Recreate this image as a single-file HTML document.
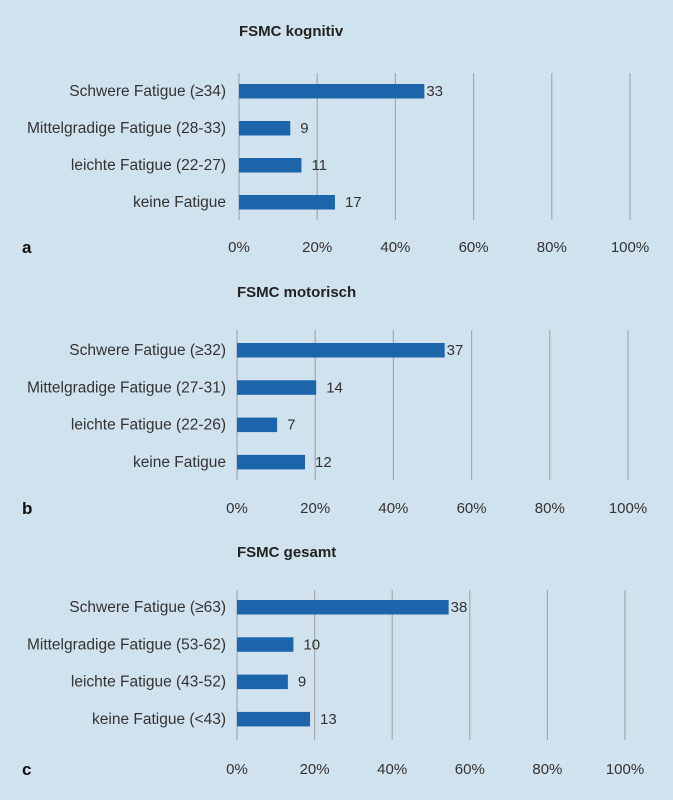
<!DOCTYPE html>
<html><head><meta charset="utf-8"><style>
body{margin:0;background:#d0e2ee;}
svg{display:block;font-family:"Liberation Sans",sans-serif;}
</style></head><body>
<svg id="chart" width="673" height="800"></svg>
<script>
const titles=["FSMC kognitiv","FSMC motorisch","FSMC gesamt"];
const panelLetters=["a","b","c"];
const catsA=["Schwere Fatigue (≥34)","Mittelgradige Fatigue (28-33)","leichte Fatigue (22-27)","keine Fatigue"];
const catsB=["Schwere Fatigue (≥32)","Mittelgradige Fatigue (27-31)","leichte Fatigue (22-26)","keine Fatigue"];
const catsC=["Schwere Fatigue (≥63)","Mittelgradige Fatigue (53-62)","leichte Fatigue (43-52)","keine Fatigue (<43)"];
const valsA=[33,9,11,17];
const valsB=[37,14,7,12];
const valsC=[38,10,9,13];
const ticks=[0,20,40,60,80,100];
const NS="http://www.w3.org/2000/svg";
const svg=document.getElementById("chart");
function mk(t,a,txt){const e=document.createElementNS(NS,t);for(const k in a)e.setAttribute(k,a[k]);if(txt!=null)e.textContent=txt;svg.appendChild(e);return e;}
const panels=[
 {cats:catsA,vals:valsA,x0:239,x1:630,title:31,gTop:73,gBot:220,row0:91,step:37,tickY:247},
 {cats:catsB,vals:valsB,x0:237,x1:628,title:292,gTop:330,gBot:480,row0:350,step:37.3,tickY:508},
 {cats:catsC,vals:valsC,x0:237,x1:625,title:552,gTop:590,gBot:740,row0:607,step:37.3,tickY:769}
];
panels.forEach((p,pi)=>{
 const total=p.vals.reduce((a,b)=>a+b,0);
 const xs=v=>p.x0+(p.x1-p.x0)*v/100;
 let e=mk("text",{x:p.x0,y:p.title+5,"font-size":15,"font-weight":"bold",fill:"#222"},titles[pi]);
 
 
 ticks.forEach(t=>{
  let l=mk("line",{x1:xs(t),x2:xs(t),y1:p.gTop,y2:p.gBot,stroke:"#a4a9ae","stroke-width":1.2});
  
  
  let tx=mk("text",{x:xs(t),y:p.tickY+5,"font-size":15,"text-anchor":"middle",fill:"#333"},t+"%");
  
  
 });
 p.cats.forEach((c,i)=>{
  const y=p.row0+i*p.step;
  const pct=p.vals[i]/total*100;
  let lb=mk("text",{x:226,y:y+5,"font-size":15.5,"text-anchor":"end",fill:"#333"},c);
  
  
  let b=mk("rect",{x:p.x0,y:y-7,width:xs(pct)-p.x0+1,height:14.5,fill:"#1d65ab"});
  
  
  let v=mk("text",{x:xs(pct)+(i==0?3:11),y:y+5,"font-size":15,fill:"#333"},p.vals[i]);
  
  
 });
 let L=mk("text",{x:22,y:p.tickY+6,"font-size":17,"font-weight":"bold",fill:"#111"},panelLetters[pi]);
 
 
});
</script>
</body></html>
